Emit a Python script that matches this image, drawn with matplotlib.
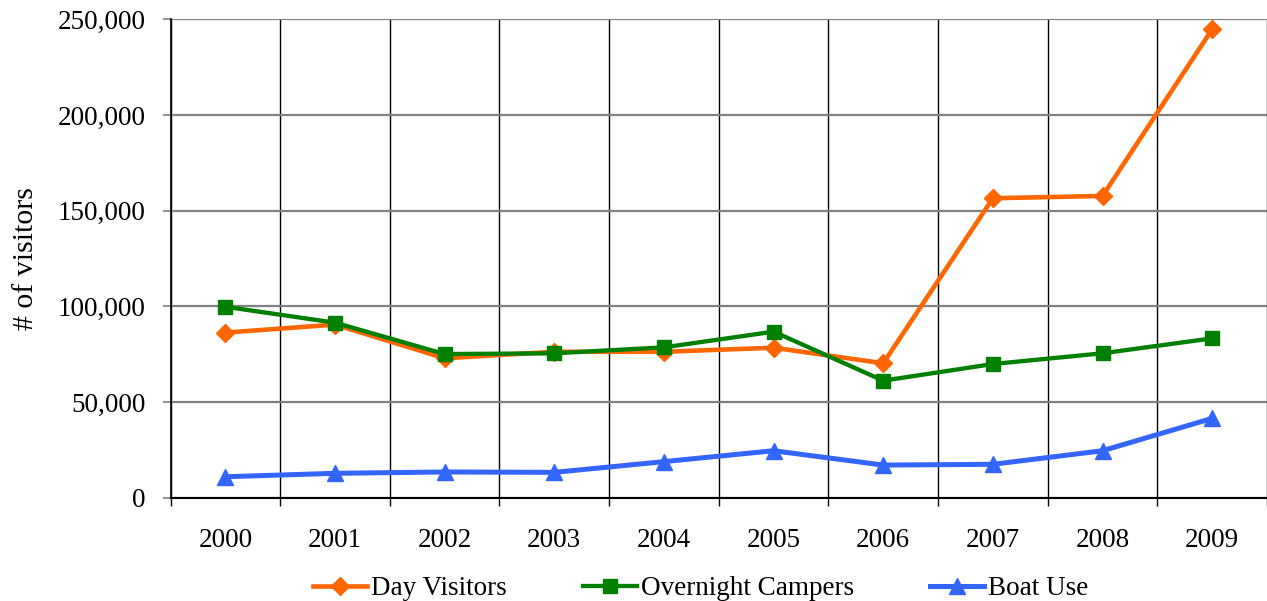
import matplotlib
matplotlib.use("Agg")
import matplotlib.pyplot as plt
from matplotlib.ticker import FuncFormatter, MultipleLocator

years = ["2000", "2001", "2002", "2003", "2004", "2005", "2006", "2007", "2008", "2009"]
day_visitors = [86300, 90500, 72900, 76300, 76300, 78400, 70300, 156500, 157700, 244800]
overnight_campers = [99800, 91500, 75100, 75500, 78600, 86800, 61200, 69900, 75500, 83300]
boat_use = [11000, 12800, 13500, 13300, 18900, 24600, 17100, 17500, 24600, 41500]

plt.rcParams["font.family"] = ["Liberation Serif", "DejaVu Serif"]
plt.rcParams["font.size"] = 19.5

fig = plt.figure(figsize=(12.67, 6.01), dpi=100)
ax = fig.add_axes([0.1346, 0.1717, 0.8654, 0.7962])

x = list(range(len(years)))
ax.plot(x, day_visitors, color="#FF6600", lw=3.3, marker="D", ms=9.5,
        label="Day Visitors", zorder=3)
ax.plot(x, overnight_campers, color="#008000", lw=3.1, marker="s", ms=10,
        label="Overnight Campers", zorder=4)
ax.plot(x, boat_use, color="#3366FF", lw=3.6, marker="^", ms=11.5,
        label="Boat Use", zorder=3)

ax.set_xlim(-0.5, 9.5)
ax.set_ylim(0, 250000)

# category labels at centres, tick marks and vertical grid at boundaries
ax.set_xticks(x)
ax.set_xticklabels(years)
ax.xaxis.set_minor_locator(MultipleLocator(1, offset=0.5))
ax.tick_params(axis="x", which="major", length=0, pad=22)
ax.tick_params(axis="x", which="minor", length=6, width=1, color="black", direction="out")
ax.grid(True, axis="x", which="minor", color="black", lw=1)

ax.yaxis.set_major_locator(MultipleLocator(50000))
ax.yaxis.set_major_formatter(FuncFormatter(lambda v, p: f"{int(v):,}"))
ax.tick_params(axis="y", length=6, width=1.2, color="#808080", pad=12)
ax.grid(True, axis="y", which="major", color="#808080", lw=1.6)
ax.set_axisbelow(True)

for side in ("top", "right"):
    ax.spines[side].set_visible(False)
ax.spines["left"].set_color("black")
ax.spines["bottom"].set_color("black")
ax.spines["left"].set_linewidth(1.2)
ax.spines["bottom"].set_linewidth(1.5)

ax.set_ylabel("# of visitors", fontsize=21.5, labelpad=13)

fig.legend(loc="center", bbox_to_anchor=(0.553, 1 - 588.5 / 601), ncol=3,
           frameon=False, handlelength=2.0, handletextpad=0.15,
           columnspacing=2.8, borderaxespad=0)

fig.savefig("out.png", dpi=100)
